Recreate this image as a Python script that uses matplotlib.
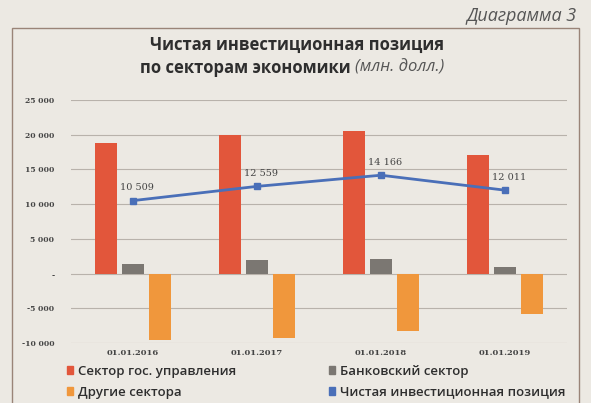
import numpy as np
import matplotlib.pyplot as plt
from matplotlib.patches import Rectangle, Patch

# Data (млн. долл.)
dates = ['01.01.2016', '01.01.2017', '01.01.2018', '01.01.2019']
gov = [18800, 20000, 20600, 17100]
banks = [1400, 2000, 2100, 900]
other = [-9500, -9300, -8300, -5800]
net = [10509, 12559, 14166, 12011]
net_labels = ['10 509', '12 559', '14 166', '12 011']
yticks = [-10000, -5000, 0, 5000, 10000, 15000, 20000, 25000]
ytick_labels = ['-10 000', '-5 000', '-', '5 000', '10 000', '15 000', '20 000', '25 000']

bg = '#ece9e3'
c_gov = '#e2563b'
c_bank = '#7b7772'
c_other = '#f0973c'
c_net = '#4a6fb8'

fig = plt.figure(figsize=(5.91, 4.03), dpi=100, facecolor=bg)

# frame around chart
fig.patches.append(Rectangle((12/591, -0.01), 567/591, 1 - 28/403 + 0.01,
                             transform=fig.transFigure, fill=False,
                             edgecolor='#9a8478', linewidth=1.0))

fig.text(577/591, 1 - 16/403, 'Диаграмма 3', ha='right', va='center',
         fontsize=13, style='italic', color='#555555', family='Open Sans')
fig.text(0.503, 1 - 45/403, 'Чистая инвестиционная позиция', ha='center',
         va='center', fontsize=12, fontweight='bold', color='#2e2e2e',
         family='Open Sans')
fig.text(355/591, 1 - 68/403, 'по секторам экономики ', ha='right',
         va='center', fontsize=12, fontweight='bold', color='#2e2e2e',
         family='Open Sans')
fig.text(355/591, 1 - 68/403, '(млн. долл.)', ha='left', va='center',
         fontsize=12, style='italic', color='#555555', family='Open Sans')

ax = fig.add_axes([71/591, 60/403, 496/591, 243/403])
ax.set_facecolor('none')

x = np.arange(len(dates))
w = 0.18
off = 0.218
ax.bar(x - off, gov, w, color=c_gov, zorder=3)
ax.bar(x, banks, w, color=c_bank, zorder=3)
ax.bar(x + off, other, w, color=c_other, zorder=3)
ax.plot(x, net, color=c_net, linewidth=2, marker='s', markersize=5, zorder=4)
for xi, v, t in zip(x, net, net_labels):
    ax.annotate(t, (xi, v), xytext=(3, 6), textcoords='offset points',
                ha='center', va='bottom', fontsize=7, family='DejaVu Serif',
                color='#444444')

ax.set_xlim(-0.5, 3.5)
ax.set_ylim(-10000, 25000)
ax.set_yticks(yticks)
ax.set_yticklabels(ytick_labels, fontsize=5.5, family='DejaVu Serif',
                   color='#444444', fontweight='bold')
ax.set_xticks(x)
ax.set_xticklabels(dates, fontsize=6, family='DejaVu Serif', color='#444444',
                   fontweight='bold')
ax.tick_params(length=0, pad=12, axis='y')
ax.tick_params(length=0, pad=4, axis='x')
ax.grid(axis='y', color='#b8b2ab', linewidth=0.8, zorder=0)
for s in ax.spines.values():
    s.set_visible(False)

# legend (two columns, square markers)
leg_labels = ['Сектор гос. управления', 'Другие сектора',
              'Банковский сектор', 'Чистая инвестиционная позиция']
leg_colors = [c_gov, c_other, c_bank, c_net]
handles = [Patch(color=c) for c in leg_colors]
leg = fig.legend(handles, leg_labels,
                 loc='upper left', bbox_to_anchor=(55/591, 1 - 353/403),
                 ncol=2, frameon=False, handlelength=0.5,
                 handleheight=0.5, handletextpad=0.35, columnspacing=7.0,
                 labelspacing=0.58,
                 prop={'family': 'Open Sans', 'size': 9.5, 'weight': 'semibold'})
for t in leg.get_texts():
    t.set_color('#2e2e2e')

fig.savefig('out.png', dpi=100, facecolor=bg)
